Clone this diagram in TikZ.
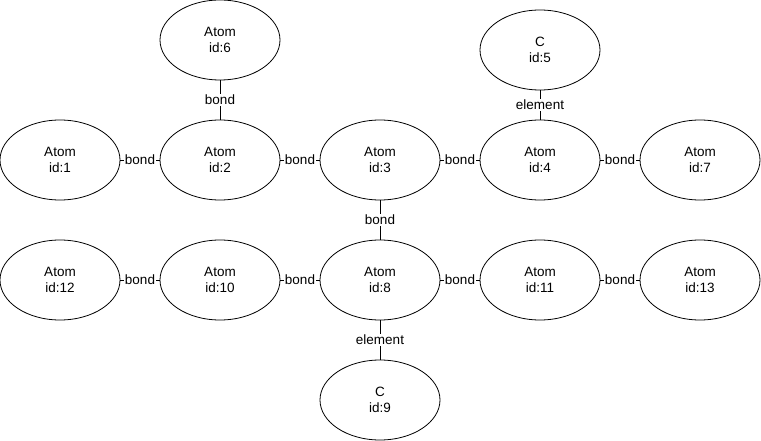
\documentclass[tikz,border=0pt]{standalone}
\usepackage{fontspec}
\setmainfont{Liberation Sans}
\usetikzlibrary{shapes.geometric}
\tikzset{
  atom/.style={draw,ellipse,line width=0.8pt,minimum width=120pt,minimum height=80pt,inner sep=0pt,align=center,font=\fontsize{13.5}{16.5}\selectfont},
  link/.style={line width=0.8pt},
  rel/.style={midway,fill=white,inner sep=1pt,font=\fontsize{13.5}{16}\selectfont}
}
\begin{document}
\begin{tikzpicture}[x=1pt,y=-1pt]
			\useasboundingbox (0,0) rectangle (761,441);
			% top row
			\node[atom] (a1) at (60,160) {Atom\\id:1};
			\node[atom] (a2) at (220,160) {Atom\\id:2};
			\node[atom] (a3) at (380,160) {Atom\\id:3};
			\node[atom] (a4) at (540,160) {Atom\\id:4};
			\node[atom] (a7) at (700,160) {Atom\\id:7};
			\node[atom] (a6) at (220,40) {Atom\\id:6};
			\node[atom] (c5) at (540,50) {C\\id:5};
			% bottom row
			\node[atom] (a12) at (60,280) {Atom\\id:12};
			\node[atom] (a10) at (220,280) {Atom\\id:10};
			\node[atom] (a8) at (380,280) {Atom\\id:8};
			\node[atom] (a11) at (540,280) {Atom\\id:11};
			\node[atom] (a13) at (700,280) {Atom\\id:13};
			\node[atom] (c9) at (380,400) {C\\id:9};
			% bonds
			\foreach \u/\v in {a1/a2,a2/a3,a3/a4,a4/a7,a12/a10,a10/a8,a8/a11,a11/a13}{
				\draw[link] (\u.east)--(\v.west) node[rel]{bond};
			}
			\draw[link] (a6.south)--(a2.north) node[rel]{bond};
			\draw[link] (a3.south)--(a8.north) node[rel]{bond};
			% elements
			\draw[link] (c5.south)--(a4.north) node[rel]{element};
			\draw[link] (a8.south)--(c9.north) node[rel]{element};
			\end{tikzpicture}
\end{document}
